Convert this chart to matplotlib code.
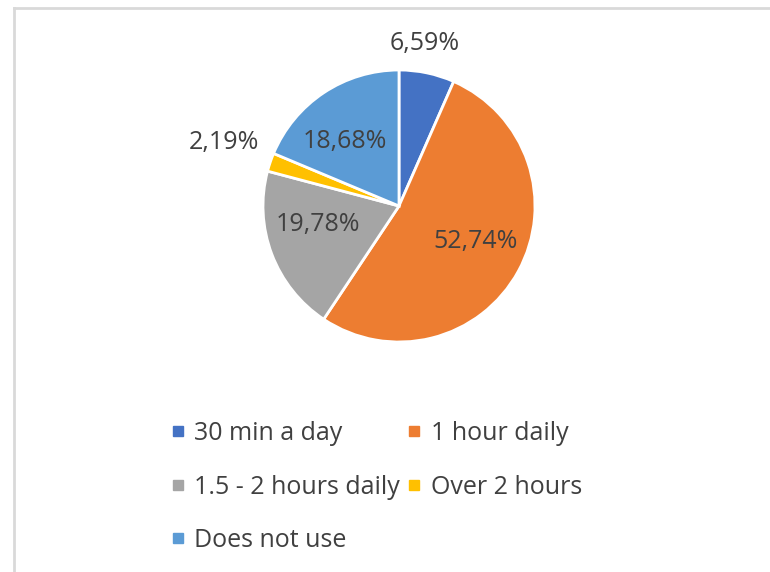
import numpy as np
import matplotlib
matplotlib.use("Agg")
import matplotlib.pyplot as plt
from matplotlib.lines import Line2D

categories = ["30 min a day", "1 hour daily", "1.5 - 2 hours daily", "Over 2 hours", "Does not use"]
values = [6.59, 52.74, 19.78, 2.19, 18.68]
colors = ["#4472C4", "#ED7D31", "#A5A5A5", "#FFC000", "#5B9BD5"]
label_texts = ["6,59%", "52,74%", "19,78%", "2,19%", "18,68%"]
label_dist = [1.21, 0.62, 0.61, 1.37, 0.62]
label_ang_adj = [3, 4, -8, -1, 6]

plt.rcParams['font.family'] = ['Open Sans', 'DejaVu Sans']
W, H, DPI = 770, 572, 100
fig = plt.figure(figsize=(W / DPI, H / DPI), dpi=DPI)
fig.patch.set_facecolor("white")

# pie axes: center (399,206), radius 136 px
cx, cy, r = 399, 206, 136
ax = fig.add_axes([(cx - r) / W, 1 - (cy + r) / H, 2 * r / W, 2 * r / H])
wedges, _ = ax.pie(values, colors=colors, startangle=90, counterclock=False,
                   radius=1.0, wedgeprops=dict(edgecolor="white", linewidth=2))
ax.set_xlim(-1, 1)
ax.set_ylim(-1, 1)
ax.set_aspect("equal")
ax.axis("off")

for w, txt, d, adj in zip(wedges, label_texts, label_dist, label_ang_adj):
    ang = np.deg2rad((w.theta1 + w.theta2) / 2 + adj)
    ax.text(d * np.cos(ang), d * np.sin(ang), txt, ha="center", va="center",
            fontsize=18, color="#404040", clip_on=False)

order = [0, 2, 4, 1, 3]
handles = [Line2D([], [], marker="s", linestyle="none", markersize=6.5,
                  markerfacecolor=colors[i], markeredgecolor=colors[i]) for i in order]
labels = [categories[i] for i in order]
fig.legend(handles, labels, ncol=2, loc="upper left",
           bbox_to_anchor=(170 / W, 1 - 421 / H), frameon=False,
           fontsize=18, labelcolor="#404040", handlelength=0.6,
           handletextpad=0.38, columnspacing=0.25, labelspacing=1.14,
           borderaxespad=0, borderpad=0)

# chart border (top and left visible)
fig.add_artist(Line2D([14 / W, 14 / W], [0, 1 - 8 / H], transform=fig.transFigure,
                      color="#D9D9D9", linewidth=2))
fig.add_artist(Line2D([14 / W, 1], [1 - 8 / H, 1 - 8 / H], transform=fig.transFigure,
                      color="#D9D9D9", linewidth=2))

fig.savefig("out.png", dpi=DPI, facecolor="white")
